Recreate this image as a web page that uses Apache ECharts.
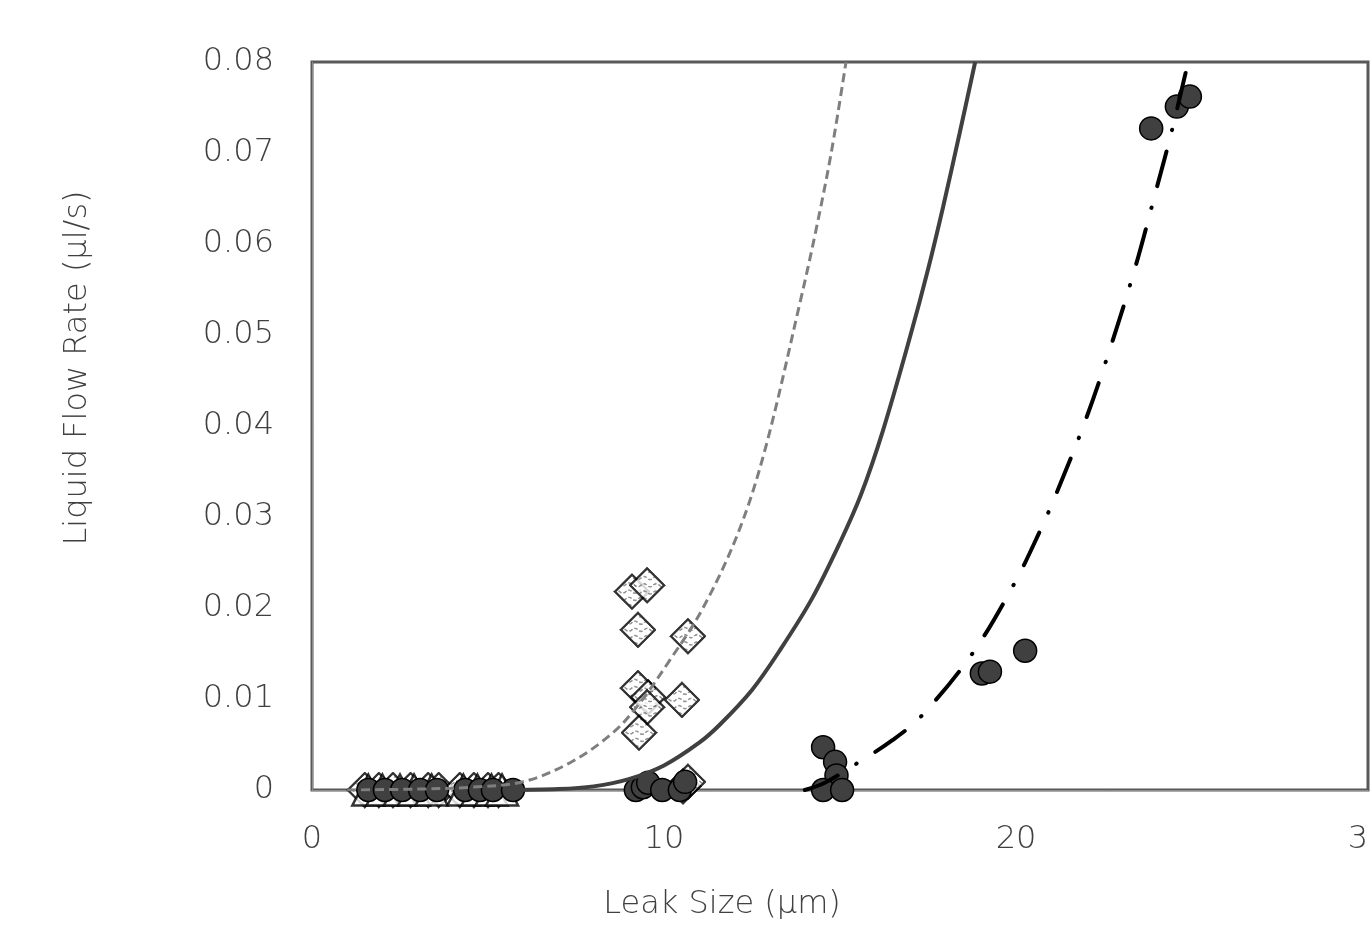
<!DOCTYPE html>
<html>
<head>
<meta charset="utf-8">
<title>Liquid Flow Rate vs Leak Size</title>
<script src="https://cdn.jsdelivr.net/npm/echarts@6/dist/echarts.min.js"></script>
<style>
html, body { margin: 0; padding: 0; background: #fff; }
#chart { width: 1370px; height: 927px; }
</style>
</head>
<body>
<div id="chart"></div>
<script>
// measured points [leak size um, flow rate ul/s]
const triangles = [
  [1.6, 0], [2.0, 0], [2.5, 0], [2.9, 0], [3.4, 0], [4.3, 0], [4.7, 0], [5.1, 0], [5.4, 0]
];
const diamonds = [
  [1.5, 0], [1.9, 0], [2.3, 0], [2.8, 0], [3.3, 0], [3.6, 0], [4.2, 0], [4.6, 0], [5.0, 0], [5.3, 0],
  [9.09, 0.0218], [9.52, 0.0225], [9.26, 0.0176], [10.68, 0.0169],
  [9.26, 0.0112], [9.55, 0.0102], [9.52, 0.0091], [10.51, 0.0099], [9.29, 0.0063],
  [10.54, 0.0004], [10.68, 0.0009]
];
const circles = [
  [1.6, 0], [2.07, 0], [2.56, 0], [3.07, 0], [3.55, 0], [4.35, 0], [4.77, 0], [5.14, 0], [5.71, 0],
  [9.2, 0], [9.4, 0.0003], [9.55, 0.0008], [9.95, 0], [10.45, 0], [10.6, 0.0009],
  [14.52, 0.0047], [14.86, 0.0031], [14.9, 0.0016], [14.52, 0], [15.06, 0],
  [19.03, 0.0128], [19.26, 0.013], [20.26, 0.0153],
  [23.84, 0.0727], [24.57, 0.0751], [24.94, 0.0762]
];
// trend lines
const fitDashed = [
  [1.0, 0], [3.0, 0.0001], [4.5, 0.0003], [5.99, 0.0009], [7.33, 0.003], [8.55, 0.0063],
  [9.32, 0.0096], [10.17, 0.0143], [11.08, 0.0198], [12.1, 0.0282], [12.87, 0.0374],
  [13.86, 0.0535], [14.3, 0.0612], [14.75, 0.07], [15.17, 0.08]
];
const fitSolid = [
  [5.5, 0], [7.0, 0.0001], [8.0, 0.0004], [9.0, 0.0012], [10.0, 0.0027], [11.0, 0.0052],
  [11.59, 0.0072], [12.5, 0.011], [13.3, 0.0154], [14.2, 0.021], [15.0, 0.0272], [15.6, 0.0325],
  [16.22, 0.0395], [16.99, 0.0498], [17.5, 0.0572], [17.93, 0.0641], [18.4, 0.0722], [18.84, 0.08]
];
const fitDashDot = [
  [14.0, 0], [14.57, 0.0008], [15.51, 0.003], [16.5, 0.0055], [17.33, 0.0082], [18.78, 0.0151],
  [19.94, 0.0226], [20.65, 0.0282], [21.17, 0.0328], [22.0, 0.0409], [22.73, 0.0492],
  [23.4, 0.0576], [24.0, 0.0662], [24.43, 0.0725], [24.89, 0.08]
];
const xTicks = { min: 0, max: 30, step: 10 };
const yTicks = { min: 0, max: 0.08, step: 0.01 };

// diamond marker with the wavy grey hatch, drawn at 2x
function hatchedDiamond() {
  const cv = document.createElement('canvas');
  cv.width = 72; cv.height = 72;
  const c = cv.getContext('2d');
  c.beginPath();
  c.moveTo(36, 3); c.lineTo(69, 36); c.lineTo(36, 69); c.lineTo(3, 36); c.closePath();
  c.fillStyle = '#ffffff';
  c.fill();
  c.save();
  c.clip();
  c.strokeStyle = '#7a7a7a';
  c.lineWidth = 3;
  c.setLineDash([7, 4]);
  for (let y = 8; y < 72; y += 14) {
    c.beginPath();
    c.moveTo(0, y);
    for (let x = 0; x < 72; x += 24) {
      c.quadraticCurveTo(x + 6, y - 6, x + 12, y);
      c.quadraticCurveTo(x + 18, y + 6, x + 24, y);
    }
    c.stroke();
  }
  c.restore();
  c.setLineDash([]);
  c.beginPath();
  c.moveTo(36, 3); c.lineTo(69, 36); c.lineTo(36, 69); c.lineTo(3, 36); c.closePath();
  c.strokeStyle = '#000';
  c.lineWidth = 4.5;
  c.stroke();
  return 'image://' + cv.toDataURL();
}

const font = 'DejaVu Sans';
const labelStyle = { color: '#404040', fontSize: 32, fontFamily: font, fontWeight: 200 };
let myChart = echarts.init(document.getElementById('chart'));
myChart.setOption({
  animation: false,
  grid: {
    left: 312, top: 62, right: 2, bottom: 137,
    outerBoundsMode: 'none',
    containLabel: false,
    show: true,
    borderColor: '#595959',
    borderWidth: 3
  },
  xAxis: {
    type: 'value',
    min: xTicks.min, max: xTicks.max, interval: xTicks.step,
    axisLine: { lineStyle: { color: '#8c8c8c', width: 1 } },
    axisTick: { show: false },
    splitLine: { show: false },
    axisLabel: Object.assign({ margin: 34, hideOverlap: false }, labelStyle)
  },
  yAxis: {
    type: 'value',
    min: yTicks.min, max: yTicks.max, interval: yTicks.step,
    axisLine: { show: true, lineStyle: { color: '#8c8c8c', width: 1 } },
    axisTick: { show: false },
    splitLine: { show: false },
    axisLabel: Object.assign({
      margin: 38,
      formatter: v => v === 0 ? '0' : v.toFixed(2)
    }, labelStyle)
  },
  graphic: [
    {
      type: 'text', x: 78, y: 368, rotation: Math.PI / 2,
      style: { text: 'Liquid Flow Rate (µl/s)', fill: '#404040', font: '200 32px "DejaVu Sans"', align: 'center', verticalAlign: 'middle' }
    },
    {
      type: 'text', x: 722, y: 905,
      style: { text: 'Leak Size (µm)', fill: '#404040', font: '200 32px "DejaVu Sans"', align: 'center', verticalAlign: 'middle' }
    }
  ],
  series: [
    {
      type: 'scatter', data: diamonds, symbol: hatchedDiamond(), symbolSize: 37, z: 2
    },
    {
      type: 'scatter', data: triangles, symbol: 'triangle', symbolSize: [32, 31], z: 3,
      itemStyle: { color: '#ffffff', borderColor: '#000', borderWidth: 2.5 }
    },
    {
      type: 'scatter', data: circles, symbol: 'circle', symbolSize: 23, z: 4,
      itemStyle: { color: '#404040', borderColor: '#000', borderWidth: 1.5, opacity: 1 }
    },
    {
      type: 'line', data: fitDashed, symbol: 'none', smooth: 0.35, z: 5,
      lineStyle: { color: '#7f7f7f', width: 3, type: [9, 5] }
    },
    {
      type: 'line', data: fitSolid, symbol: 'none', smooth: 0.35, z: 5,
      lineStyle: { color: '#404040', width: 4 }
    },
    {
      type: 'line', data: fitDashDot, symbol: 'none', smooth: 0.35, z: 5,
      lineStyle: { color: '#000', width: 4, type: [36, 22, 0.5, 22], cap: 'round' }
    }
  ]
});
</script>
</body>
</html>
